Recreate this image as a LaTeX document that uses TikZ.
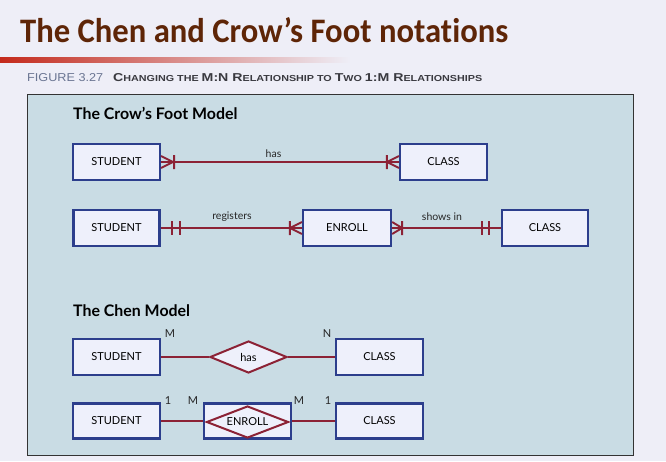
\documentclass[tikz,border=0pt]{standalone}
\usepackage{graphicx}
\usepackage{fontspec}
\setmainfont{Lato}
\newfontfamily\titlefont{Carlito}[Ligatures=NoCommon]
\newfontfamily\capfont{Liberation Sans}
\usetikzlibrary{calc,shapes.geometric}
\definecolor{pagebg}{HTML}{EEEEF7}
\definecolor{panelbg}{HTML}{C9DCE4}
\definecolor{boxfill}{HTML}{EEF0FB}
\definecolor{boxline}{HTML}{2C3E8C}
\definecolor{rel}{HTML}{8C2235}
\definecolor{titlebrown}{HTML}{5E2507}
\definecolor{capblue}{HTML}{6A7592}
\definecolor{capdark}{HTML}{3A3A40}
\definecolor{barred}{HTML}{C42A1C}
\newcommand\capbigl[1]{{\fontsize{10}{10}\selectfont #1}}
\newcommand\capsmll[1]{{\fontsize{7.6}{10}\selectfont #1}}
\begin{document}
\begin{tikzpicture}[x=1pt,y=-1pt,
  ent/.style={draw=boxline, line width=2.2pt, fill=boxfill, minimum width=87pt,
    minimum height=36pt, inner sep=0pt, font=\fontsize{11}{13}\selectfont},
  relline/.style={draw=rel, line width=1.9pt},
  foot/.style={draw=rel, line width=1.9pt},
  dia/.style={diamond, aspect=2.4, draw=rel, line width=2pt, fill=boxfill, inner sep=0pt,
    minimum width=77pt, minimum height=32pt, font=\fontsize{11}{13}\selectfont},
  lbl/.style={inner sep=0pt, font=\fontsize{10.5}{12}\selectfont, text=black!85},
  card/.style={inner sep=0pt, font=\fontsize{11}{12}\selectfont, text=black!85},
  sect/.style={anchor=base west, inner sep=0pt, font=\bfseries\fontsize{15.9}{18}\selectfont}]
\fill[pagebg] (0,0) rectangle (666,461);
\useasboundingbox (0,0) rectangle (666,461);
% red bar
\shade[left color=barred, right color=pagebg] (0,57) rectangle (350,62);
% title
\node[anchor=base west, inner sep=0pt, text=titlebrown] (title) at (20,42)
  {\resizebox{488pt}{25pt}{\titlefont\bfseries The Chen and Crow’s Foot notations}};
% caption
\node[anchor=base west, inner sep=0pt, text=capblue] (fig) at (27,81)
  {\resizebox{76pt}{8pt}{\capfont FIGURE 3.27}};
\node[anchor=base west, inner sep=0pt, text=capdark] (figcap) at (113,81)
  {\resizebox{369pt}{8pt}{\capfont\bfseries\capbigl{C}\capsmll{HANGING THE }\capbigl{M:N R}\capsmll{ELATIONSHIP TO }\capbigl{T}\capsmll{WO }\capbigl{1:M R}\capsmll{ELATIONSHIPS}}};
% panel
\draw[draw=black!80, line width=1pt, fill=panelbg] (27,94) rectangle (633,455);
% section titles
\node[sect] (cft) at (73,119) {The Crow’s Foot Model};
\node[sect] (chent) at (73,316) {The Chen Model};
% ---- Crow's foot row 1
\node[ent] (s1) at (116.5,162) {STUDENT};
\node[ent] (c1) at (443.5,162) {CLASS};
\draw[relline] (s1.east) -- (c1.west);
\node[lbl] (l1) at (273.5,154) {has};
\draw[foot] ($(s1.east)+(12,0)$) -- ($(s1.east)+(0,-6)$)
            ($(s1.east)+(12,0)$) -- ($(s1.east)+(0,6)$)
            ($(s1.east)+(13,-7)$) -- ($(s1.east)+(13,7)$);
\draw[foot] ($(c1.west)+(-12,0)$) -- ($(c1.west)+(0,-6)$)
            ($(c1.west)+(-12,0)$) -- ($(c1.west)+(0,6)$)
            ($(c1.west)+(-12,-7)$) -- ($(c1.west)+(-12,7)$);
% ---- Crow's foot row 2
\node[ent, minimum width=86pt] (s2) at (116.5,228) {STUDENT};
\node[ent, minimum width=88pt] (e2) at (347,228) {ENROLL};
\node[ent, minimum width=86pt] (c2) at (545,228) {CLASS};
\draw[relline] (s2.east) -- (e2.west);
\draw[relline] (e2.east) -- (c2.west);
\node[lbl] (l2) at (232,217) {registers};
\node[lbl] (l3) at (442,217) {shows in};
\draw[foot] ($(s2.east)+(11,-7)$) -- ($(s2.east)+(11,7)$)
            ($(s2.east)+(19,-7)$) -- ($(s2.east)+(19,7)$);
\draw[foot] ($(e2.west)+(-12,0)$) -- ($(e2.west)+(0,-6)$)
            ($(e2.west)+(-12,0)$) -- ($(e2.west)+(0,6)$)
            ($(e2.west)+(-12,-7)$) -- ($(e2.west)+(-12,7)$);
\draw[foot] ($(e2.east)+(10,0)$) -- ($(e2.east)+(0,-6)$)
            ($(e2.east)+(10,0)$) -- ($(e2.east)+(0,6)$)
            ($(e2.east)+(10,-7)$) -- ($(e2.east)+(10,7)$);
\draw[foot] ($(c2.west)+(-12,-7)$) -- ($(c2.west)+(-12,7)$)
            ($(c2.west)+(-19,-7)$) -- ($(c2.west)+(-19,7)$);
% ---- Chen row 3
\node[ent] (s3) at (116.5,357) {STUDENT};
\node[ent] (c3) at (379.5,357) {CLASS};
\node[dia] (d3) at (248.5,357) {has};
\draw[relline] (s3.east) -- (d3.west);
\draw[relline] (d3.east) -- (c3.west);
\node[card] (m3) at (170,334) {M};
\node[card] (n3) at (327,334) {N};
% ---- Chen row 4
\node[ent, minimum height=35pt] (s4) at (116.5,421) {STUDENT};
\node[ent, minimum height=35pt] (c4) at (379.5,421) {CLASS};
\node[ent, minimum height=35pt] (e4) at (247.5,421) {};
\draw[relline] (s4.east) -- (e4.west);
\draw[relline] (e4.east) -- (c4.west);
\node[dia, minimum width=82pt] (d4) at (247.5,422) {ENROLL};
\node[card] (o4a) at (168,400.5) {1};
\node[card] (m4a) at (193,400.5) {M};
\node[card] (m4b) at (299,400.5) {M};
\node[card] (o4b) at (328,400.5) {1};
\end{tikzpicture}
\end{document}
